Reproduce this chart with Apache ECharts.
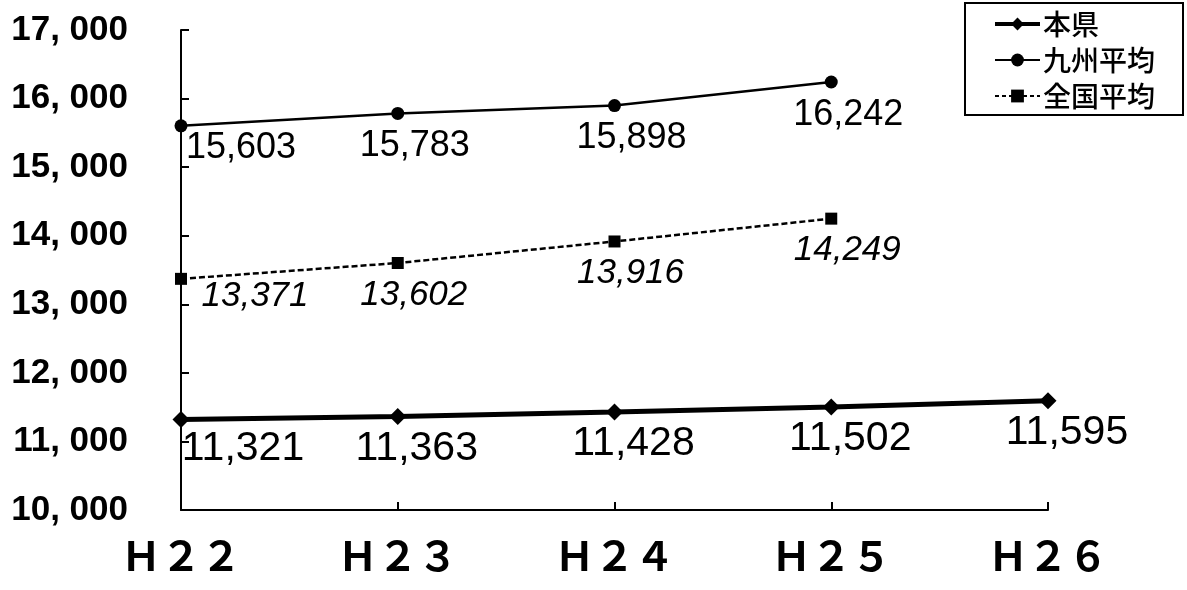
<!DOCTYPE html>
<html>
<head>
<meta charset="utf-8">
<script src="https://cdn.jsdelivr.net/npm/echarts@6/dist/echarts.min.js"></script>
<style>
html,body{margin:0;padding:0;background:#fff;}
#c{width:1187px;height:590px;}
</style>
</head>
<body>
<div id="c"></div>
<script>
const categories = ['Ｈ２２', 'Ｈ２３', 'Ｈ２４', 'Ｈ２５', 'Ｈ２６'];
const seriesNames = ['本県', '九州平均', '全国平均'];
const honken = [11321, 11363, 11428, 11502, 11595];
const kyushu = [15603, 15783, 15898, 16242, null];
const zenkoku = [13371, 13602, 13916, 14249, null];
const yMin = 10000, yMax = 17000, yStep = 1000;

const fmt = v => String(v).replace(/\B(?=(\d{3})+(?!\d))/g, ',');
const NUM_FONT = '"Liberation Sans", Arial, sans-serif';
const JP_FONT = '"Noto Sans CJK JP", sans-serif';

function items(vals, firstOff, restOff) {
  return vals.map((v, i) => v == null ? '-' : ({
    value: v,
    label: { offset: i === 0 ? firstOff : restOff }
  }));
}

const chart = echarts.init(document.getElementById('c'), null, { renderer: 'canvas' });
chart.setOption({
  backgroundColor: '#fff',
  animation: false,
  grid: { left: 181, right: 139, top: 30, bottom: 80, containLabel: false },
  legend: {
    orient: 'vertical',
    right: 4, top: 3,
    padding: [7, 28, 5, 28],
    itemGap: 8,
    itemWidth: 45,
    itemHeight: 16,
    borderColor: '#000',
    borderWidth: 2,
    textStyle: { fontFamily: JP_FONT, fontSize: 28, fontWeight: 500, color: '#000', padding: [0, 0, 0, -2] },
    data: [
      { name: seriesNames[0], lineStyle: { width: 4, color: '#000' } },
      { name: seriesNames[1], lineStyle: { width: 2, color: '#000' } },
      { name: seriesNames[2], lineStyle: { width: 2, color: '#000', type: [4, 3] } }
    ]
  },
  xAxis: {
    type: 'category',
    data: categories,
    boundaryGap: false,
    axisLine: { lineStyle: { color: '#000', width: 2 } },
    axisTick: { inside: true, length: 8, lineStyle: { color: '#000', width: 2 } },
    axisLabel: { fontFamily: JP_FONT, fontSize: 40, fontWeight: 'bold', color: '#000', margin: 26 },
    splitLine: { show: false }
  },
  yAxis: {
    type: 'value',
    min: yMin, max: yMax, interval: yStep,
    axisLine: { show: true, lineStyle: { color: '#000', width: 2 } },
    axisTick: { show: true, inside: true, length: 8, lineStyle: { color: '#000', width: 2 } },
    axisLabel: {
      fontFamily: NUM_FONT, fontSize: 35, fontWeight: 'bold', color: '#000', margin: 53,
      formatter: v => fmt(v).replace(',', ', ')
    },
    splitLine: { show: false }
  },
  series: [
    {
      name: seriesNames[0], type: 'line',
      data: items(honken, [62, 29], [19, 32]),
      symbol: 'diamond', symbolSize: 17,
      itemStyle: { color: '#000' },
      lineStyle: { color: '#000', width: 5 },
      label: { show: true, position: 'inside', fontFamily: NUM_FONT, fontSize: 41, color: '#000', formatter: p => fmt(p.value) },
      z: 3
    },
    {
      name: seriesNames[1], type: 'line',
      data: items(kyushu, [60, 22], [17, 33]),
      symbol: 'circle', symbolSize: 13,
      itemStyle: { color: '#000' },
      lineStyle: { color: '#000', width: 2.5 },
      label: { show: true, position: 'inside', fontFamily: NUM_FONT, fontSize: 36, color: '#000', formatter: p => fmt(p.value) }
    },
    {
      name: seriesNames[2], type: 'line',
      data: items(zenkoku, [74, 17], [16, 32]),
      symbol: 'rect', symbolSize: 12,
      itemStyle: { color: '#000' },
      lineStyle: { color: '#000', width: 2.5, type: [6, 3] },
      label: { show: true, position: 'inside', fontFamily: NUM_FONT, fontSize: 35, fontStyle: 'italic', color: '#000', formatter: p => fmt(p.value) }
    }
  ]
});
</script>
</body>
</html>
